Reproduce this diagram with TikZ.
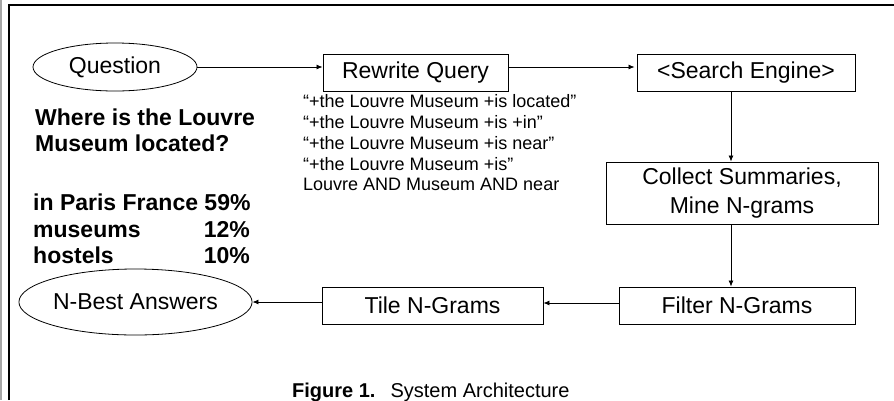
\documentclass[tikz,border=0pt]{standalone}
\usepackage{fontspec}
\setmainfont{Liberation Sans}
\usetikzlibrary{shapes.geometric,arrows.meta}
\begin{document}
\begin{tikzpicture}[x=1pt,y=-1pt,
  box/.style={draw, line width=0.9pt, inner sep=0pt, font=\fontsize{23}{28}\selectfont},
  oval/.style={draw, ellipse, line width=0.8pt, inner sep=0pt, font=\fontsize{23}{28}\selectfont},
  arr/.style={line width=0.8pt, -{Latex[length=6pt,width=5pt]}},
  bigbold/.style={font=\fontsize{23}{26.5}\selectfont\bfseries, inner sep=0pt},
  query/.style={font=\fontsize{18}{20.8}\selectfont, inner sep=0pt, anchor=base west},
  captext/.style={font=\fontsize{20}{22}\selectfont, inner sep=0pt, anchor=base west}
]
\useasboundingbox (0,0) rectangle (894,400);
% frame
\fill[gray!70] (0,0) rectangle (2,400);
\draw[line width=1.5pt] (9,400) -- (9,5) -- (894,5);

% nodes
\node[oval, minimum width=164, minimum height=48] (q) at (115,67) {Question};
\node[box, minimum width=185, minimum height=37] (rq) at (415.5,72.5) {Rewrite Query};
\node[box, minimum width=218, minimum height=37] (se) at (746,72.5) {<Search Engine>};
\node[box, minimum width=272, minimum height=62, align=center, font=\fontsize{23}{29}\selectfont] (cs) at (742,193) {Collect Summaries,\\Mine N-grams};
\node[box, minimum width=236, minimum height=37] (fn) at (737,305.5) {Filter N-Grams};
\node[box, minimum width=221, minimum height=37] (tn) at (432.5,305.5) {Tile N-Grams};
\node[oval, minimum width=223, minimum height=66] (nb) at (135.5,302) {N-Best Answers};

% question text
\node[bigbold, anchor=base west] (w1) at (35,125) {Where is the Louvre};
\node[bigbold, anchor=base west] (w2) at (35,151) {Museum located?};

% answers
\node[bigbold, anchor=base west] (a1) at (33,210) {in Paris France 59\%};
\node[bigbold, anchor=base west] (a2) at (33,237) {museums};
\node[bigbold, anchor=base east] (p2) at (250,237) {12\%};
\node[bigbold, anchor=base west] (a3) at (33,263) {hostels};
\node[bigbold, anchor=base east] (p3) at (250,263) {10\%};

% queries
\node[query] (r1) at (303,107) {“+the Louvre Museum +is located”};
\node[query] (r2) at (303,128) {“+the Louvre Museum +is +in”};
\node[query] (r3) at (303,149) {“+the Louvre Museum +is near”};
\node[query] (r4) at (303,170) {“+the Louvre Museum +is”};
\node[query] (r5) at (303,190) {Louvre AND Museum AND near};

% caption
\node[captext] (fig) at (292,397) {\textbf{Figure 1.}\hspace{15pt}System Architecture};

% connectors
\coordinate (vx) at (731,0);
\coordinate (hy) at (0,303);
\draw[arr] (q.east) -- (rq.west |- q.east);
\draw[arr] (rq.east |- q.east) -- ([xshift=-2pt]se.west |- q.east);
\draw[arr] (se.south -| vx) -- (cs.north -| vx);
\draw[arr] (cs.south -| vx) -- (fn.north -| vx);
\draw[arr] (fn.west |- hy) -- (tn.east |- hy);
\draw[arr] (tn.west |- nb.east) -- (nb.east);
\end{tikzpicture}
\end{document}
